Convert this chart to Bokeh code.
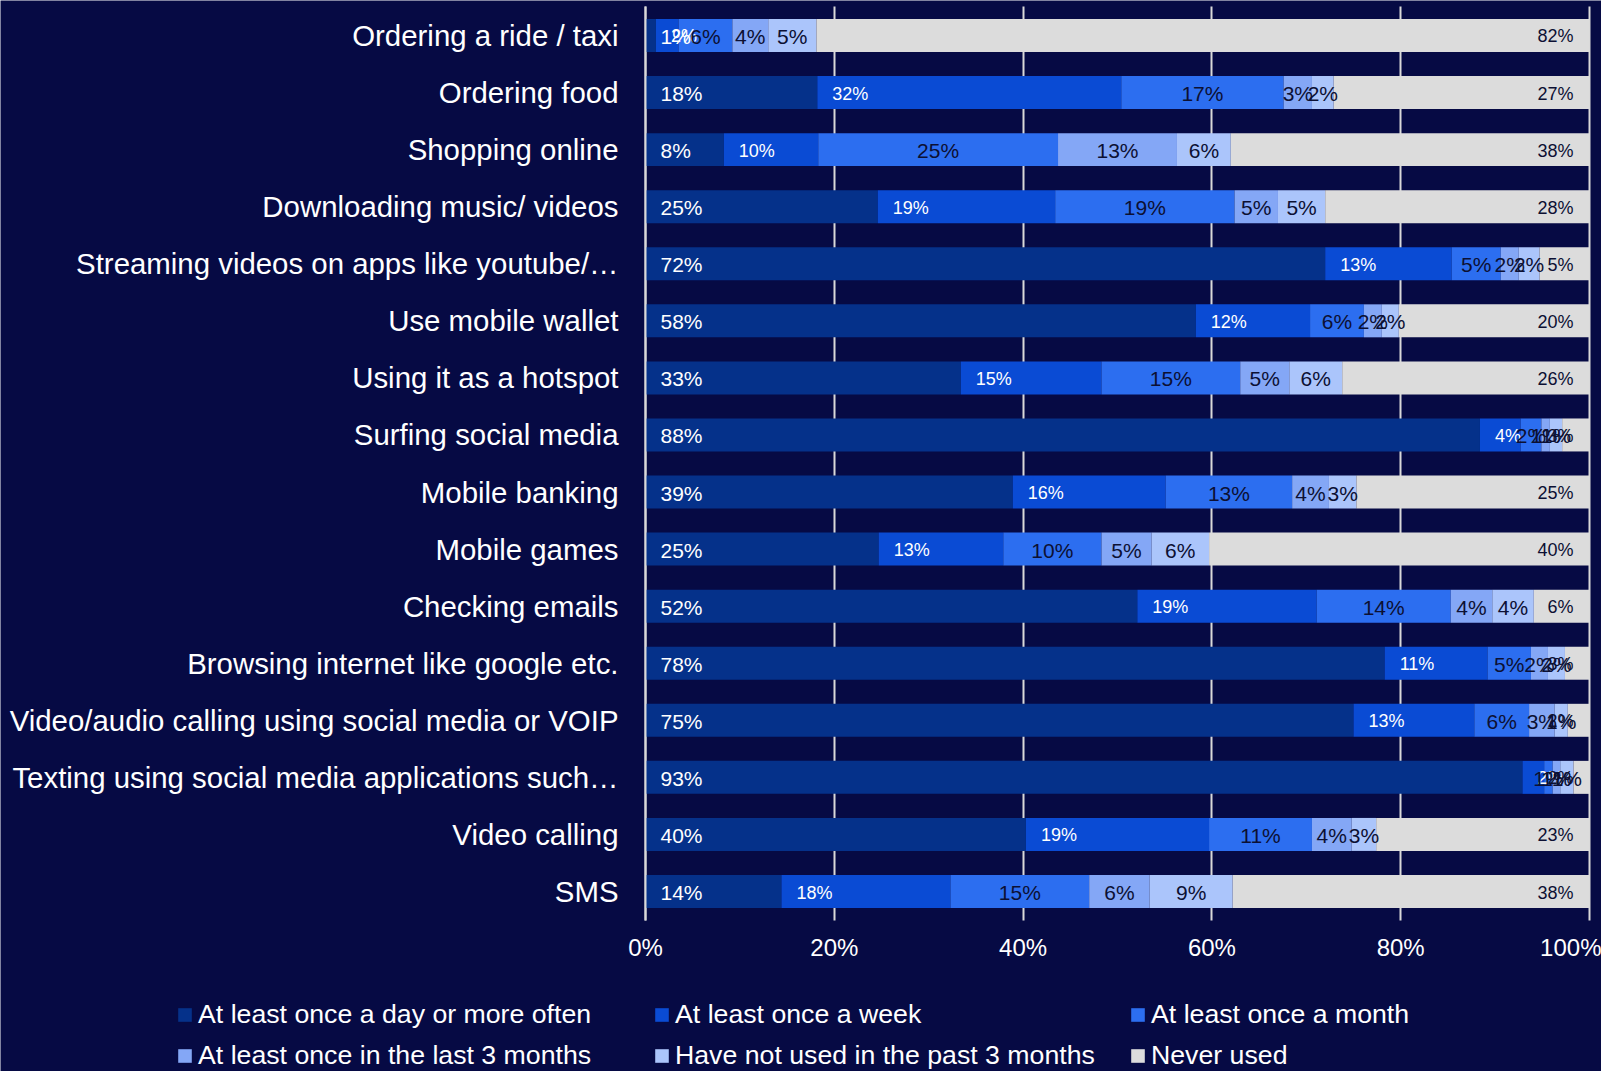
import numpy as np
from bokeh.plotting import figure
from bokeh.models import (ColumnDataSource, Range1d, Legend, LegendItem,
                          NumeralTickFormatter, FixedTicker)
from bokeh.core.properties import value
from bokeh.embed import file_html
from bokeh.resources import INLINE

# ---------------- data (top row first) ----------------
categories = [
    "Ordering a ride / taxi",
    "Ordering food",
    "Shopping online",
    "Downloading music/ videos",
    "Streaming videos on apps like youtube/\u2026",
    "Use mobile wallet",
    "Using it as a hotspot",
    "Surfing social media",
    "Mobile banking",
    "Mobile games",
    "Checking emails",
    "Browsing internet like google etc.",
    "Video/audio calling using social media or VOIP",
    "Texting using social media applications such\u2026",
    "Video calling",
    "SMS",
]
daily        = [1.1, 18.2, 8.3, 24.6, 72.0, 58.3, 33.4, 88.4, 38.9, 24.7, 52.1, 78.3, 75.0, 92.9, 40.3, 14.4]
weekly       = [2.4, 32.2, 10.0, 18.8, 13.4, 12.1, 14.9, 4.3, 16.2, 13.2, 19.0, 10.9, 12.8, 2.3, 19.4, 17.9]
monthly      = [5.7, 17.2, 25.4, 19.0, 5.2, 5.7, 14.7, 2.2, 13.4, 10.4, 14.2, 4.6, 5.8, 0.9, 10.9, 14.7]
three_months = [3.8, 3.0, 12.6, 4.6, 1.9, 1.9, 5.2, 0.9, 3.9, 5.3, 4.4, 1.8, 2.7, 0.8, 4.2, 6.4]
not_used     = [5.1, 2.3, 5.7, 5.0, 2.2, 1.8, 5.6, 1.3, 2.9, 6.1, 4.4, 1.8, 1.4, 1.4, 2.6, 8.8]
never        = [81.9, 27.1, 38.0, 28.0, 5.3, 20.2, 26.2, 2.9, 24.7, 40.3, 5.9, 2.6, 2.3, 1.7, 22.6, 37.8]

series_names = [
    "At least once a day or more often",
    "At least once a week",
    "At least once a month",
    "At least once in the last 3 months",
    "Have not used in the past 3 months",
    "Never used",
]
x_ticks = [0, 0.2, 0.4, 0.6, 0.8, 1.0]

# ---------------- style ----------------
BG = "#060a44"
FONT = "Liberation Sans"
colors = ["#05318a", "#0a4bd4", "#2c6ef0", "#84a7f6", "#abc5fb", "#dcdcdc"]
label_colors = ["#ffffff", "#ffffff", "#0c1033", "#0c1033", "#0c1033", "#0c1033"]
label_sizes = ["21px", "18px", "21px", "21px", "21px", "18px"]

series = [daily, weekly, monthly, three_months, not_used, never]
keys = ["daily", "weekly", "monthly", "three", "notused", "never"]

n = len(categories)
ypos = list(range(n, 0, -1))          # top row -> highest position

data = {"y": ypos}
for k, s in zip(keys, series):
    data[k] = [v / 100 for v in s]
src = ColumnDataSource(data)

# whole canvas is the plot frame so that the legend (drawn inside the frame) is visible
p = figure(
    x_range=Range1d(-0.68326, 1.01271),
    y_range=Range1d(-2.1542, n + 0.6133),
    width=1601, height=1071,
    output_backend="svg", toolbar_location=None,
    min_border=0, min_border_left=0, min_border_right=0,
    min_border_top=0, min_border_bottom=0,
)
p.background_fill_color = BG
p.border_fill_color = BG
p.outline_line_color = None

renderers = p.hbar_stack(keys, y="y", height=0.578, fill_color=colors,
                         line_color=None, source=src)

# value labels
cum = np.zeros(n)
for i, s in enumerate(series):
    v = np.array(s) / 100.0
    left = cum.copy()
    right = cum + v
    cum = right
    txt = [f"{int(round(x))}%" for x in s]
    if i < 2:
        xs, align, off = left, "left", 15
    elif i < 5:
        xs, align, off = (left + right) / 2, "center", 0
    else:
        xs, align, off = right, "right", -16
    lsrc = ColumnDataSource(dict(x=list(xs), y=ypos, t=txt))
    p.text(x="x", y="y", text="t", source=lsrc, text_align=align,
           text_baseline="middle", x_offset=off, y_offset=1,
           text_font=value(FONT), text_font_size=label_sizes[i],
           text_color=label_colors[i])

# x axis (percent), drawn at the bottom edge of the bar area
tick = FixedTicker(ticks=x_ticks)
p.xaxis.fixed_location = 0.5
p.xaxis.ticker = tick
p.xgrid.ticker = tick
p.xaxis.formatter = NumeralTickFormatter(format="0%")
p.xaxis.axis_line_color = None
p.xaxis.major_tick_line_color = None
p.xaxis.minor_tick_line_color = None
p.xaxis.major_tick_out = 0
p.xaxis.minor_tick_out = 0
p.xaxis.major_label_text_font = FONT
p.xaxis.major_label_text_font_size = "24px"
p.xaxis.major_label_text_color = "#ffffff"
p.xaxis.major_label_standoff = 14

# y axis (categories), drawn at x = 0
p.yaxis.fixed_location = 0
p.yaxis.bounds = (0.5, n + 0.5)
p.yaxis.ticker = FixedTicker(ticks=ypos)
p.yaxis.major_label_overrides = {y: c for y, c in zip(ypos, categories)}
p.yaxis.axis_line_color = "#d9d9d9"
p.yaxis.axis_line_width = 2
p.yaxis.major_tick_line_color = None
p.yaxis.minor_tick_line_color = None
p.yaxis.major_tick_out = 0
p.yaxis.minor_tick_out = 0
p.yaxis.major_label_text_font = FONT
p.yaxis.major_label_text_font_size = "29.4px"
p.yaxis.major_label_text_color = "#ffffff"
p.yaxis.major_label_standoff = 27

p.ygrid.grid_line_color = None
p.xgrid.grid_line_color = "#d9d9d9"
p.xgrid.grid_line_width = 2
p.xgrid.cross_bounds = (0.5, n + 0.5)

# legend: 3 columns x 2 rows below the chart
legend_pos = [(176, 41), (653, 41), (1129, 41),
              (176, 0), (653, 0), (1129, 0)]
for r, name, loc in zip(renderers, series_names, legend_pos):
    lg = Legend(items=[LegendItem(label=name, renderers=[r])], location=loc,
                background_fill_alpha=0, border_line_alpha=0, padding=0, margin=0,
                spacing=0, glyph_width=17, glyph_height=17, label_standoff=5,
                label_text_font=FONT, label_text_font_size="26.7px",
                label_text_color="#ffffff", label_height=26)
    p.add_layout(lg, "center")

open("out.html", "w").write(file_html(p, INLINE))
